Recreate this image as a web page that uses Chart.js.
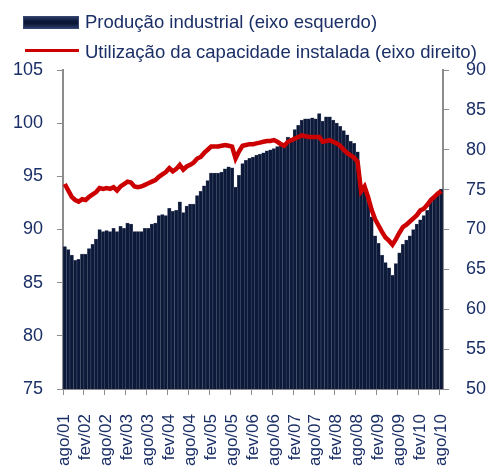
<!DOCTYPE html>
<html>
<head>
<meta charset="utf-8">
<script src="https://cdn.jsdelivr.net/npm/chart.js@4.4.0/dist/chart.umd.min.js"></script>
<style>
  body { margin: 0; background: #fff; }
  #contenedor { position: relative; width: 488px; height: 466px; }
  #leyenda {
    position: absolute; left: 23px; top: 7px;
    font-family: Arial, "Liberation Sans", sans-serif; font-size: 18.5px; color: #1a2f66;
  }
  .item { height: 30px; line-height: 30px; white-space: nowrap; }
  .caja {
    display: inline-block; width: 54px; height: 11px; margin-right: 6px; vertical-align: -1px;
    background: linear-gradient(#2a3a66, #0b1736 40%, #0b1736 60%, #2a3a66); border: 1px solid #34446e;
  }
  .linea {
    display: inline-block; width: 54px; height: 3px; margin: 0 6px 0 2px; vertical-align: 6px;
    background: #cc0000;
  }
</style>
</head>
<body>
<div id="contenedor">
  <canvas id="grafico" width="488" height="466"></canvas>
  <div id="leyenda">
    <div class="item"><span class="caja"></span>Produção industrial (eixo esquerdo)</div>
    <div class="item"><span class="linea"></span>Utilização da capacidade instalada (eixo direito)</div>
  </div>
</div>
<script>
// meses desde ago/01 hasta ago/10
const nombresMes = ["jan", "fev", "mar", "abr", "mai", "jun", "jul", "ago", "set", "out", "nov", "dez"];
const meses = [];
for (let k = 0; k < 109; k++) {
  const m = (7 + k) % 12;
  const a = 1 + Math.floor((7 + k) / 12);
  meses.push(nombresMes[m] + "/" + String(a).padStart(2, "0"));
}

// Produção industrial (eixo esquerdo)
const producao = [
  88.4, 88.1, 87.6, 87.1, 87.2, 87.7, 87.7, 88.2, 88.6, 89.1, 90.0, 89.8,
  89.9, 89.8, 90.1, 89.8, 90.3, 90.1, 90.6, 90.5, 89.8, 89.8, 89.8, 90.1,
  90.1, 90.5, 90.6, 91.3, 91.4, 91.3, 92.0, 91.7, 91.8, 92.6, 91.6, 92.2,
  92.4, 92.4, 93.2, 93.6, 94.1, 94.6, 95.3, 95.3, 95.3, 95.4, 95.7, 95.9,
  95.8, 94.0, 95.1, 96.2, 96.5, 96.7, 96.8, 97.0, 97.1, 97.2, 97.4, 97.5,
  97.6, 97.8, 97.9, 97.9, 98.7, 98.6, 99.4, 99.8, 100.3, 100.4, 100.4, 100.5,
  100.4, 100.9, 100.2, 100.6, 100.6, 100.3, 100.0, 99.7, 99.3, 98.9, 98.3, 98.1,
  97.3, 93.6, 93.8, 93.2, 91.2, 89.4, 88.7, 87.6, 86.9, 86.4, 85.7, 86.8,
  87.8, 88.6, 89.0, 89.4, 90.0, 90.5, 90.9, 91.3, 91.8, 92.6, 93.0, 93.4,
  93.8
];

// Utilização da capacidade instalada (eixo direito)
const utilizacao = [
  75.7, 74.9, 74.1, 73.7, 73.5, 73.8, 73.7, 74.1, 74.4, 74.7, 75.2, 75.1,
  75.2, 75.1, 75.3, 74.9, 75.4, 75.7, 76.0, 75.9, 75.4, 75.3, 75.4, 75.6,
  75.8, 76.0, 76.2, 76.6, 76.9, 77.2, 77.7, 77.3, 77.6, 78.1, 77.5, 77.9,
  78.1, 78.4, 78.9, 79.1, 79.6, 80.0, 80.4, 80.4, 80.4, 80.5, 80.6, 80.5,
  80.4, 78.9, 79.8, 80.5, 80.6, 80.7, 80.7, 80.8, 80.9, 81.0, 81.1, 81.1,
  81.2, 81.0, 80.7, 80.5, 81.0, 81.2, 81.4, 81.6, 81.8, 81.7, 81.6, 81.6,
  81.6, 81.6, 81.0, 81.1, 81.2, 81.0, 80.8, 80.5, 80.0, 79.6, 79.3, 79.0,
  78.5, 74.8, 75.4, 74.1, 72.5, 71.3, 70.5, 69.7, 69.0, 68.6, 68.1, 68.8,
  69.6, 70.3, 70.6, 71.0, 71.4, 71.8, 72.4, 72.6, 73.1, 73.7, 74.1, 74.5,
  74.8
];

const ticksIzq = [75, 80, 85, 90, 95, 100, 105];
const ticksDer = [50, 55, 60, 65, 70, 75, 80, 85, 90];

const azul = "#1a2f66";
const gris = "#8c8c8c";
const fuente = { family: "Arial, 'Liberation Sans', sans-serif", size: 18 };

const ctx = document.getElementById("grafico").getContext("2d");
const grafico = new Chart(ctx, {
  type: "bar",
  data: {
    labels: meses,
    datasets: [
      {
        type: "line",
        label: "Utilização da capacidade instalada (eixo direito)",
        data: utilizacao,
        yAxisID: "y1",
        borderColor: "#cc0000",
        borderWidth: 4.5,
        pointRadius: 0,
        tension: 0,
        order: 0,
      },
      {
        type: "bar",
        label: "Produção industrial (eixo esquerdo)",
        data: producao,
        yAxisID: "y",
        backgroundColor: "#0c1939",
        borderColor: "#59627a",
        borderWidth: 0.5,
        barPercentage: 1,
        categoryPercentage: 1,
        order: 1,
      },
    ],
  },
  options: {
    responsive: false,
    animation: false,
    layout: { padding: { top: 70, left: 0, right: 0, bottom: 0 } },
    plugins: { legend: { display: false }, tooltip: { enabled: false } },
    scales: {
      x: {
        grid: {
          drawOnChartArea: false,
          tickLength: 6,
          color: (c) => (c.index % 6 === 0 ? gris : "rgba(0,0,0,0)"),
        },
        border: { color: gris, width: 2 },
        ticks: {
          autoSkip: false,
          minRotation: 90,
          maxRotation: 90,
          padding: 19,
          color: azul,
          font: { family: fuente.family, size: 17 },
          callback: (v, i) => (i % 6 === 0 ? meses[i] : ""),
        },
        afterFit: (s) => { s.height = 77; },
      },
      y: {
        position: "left",
        min: 75,
        max: 105,
        afterBuildTicks: (s) => { s.ticks = ticksIzq.map((v) => ({ value: v })); },
        grid: { drawOnChartArea: false, tickLength: 6, color: gris },
        border: { color: gris, width: 2 },
        ticks: { padding: 14, color: azul, font: fuente },
        afterFit: (s) => { s.width = 63; },
      },
      y1: {
        position: "right",
        min: 50,
        max: 90,
        afterBuildTicks: (s) => { s.ticks = ticksDer.map((v) => ({ value: v })); },
        grid: { drawOnChartArea: false, tickLength: 6, color: gris },
        border: { color: gris, width: 2 },
        ticks: { padding: 17, color: azul, font: fuente },
        afterFit: (s) => { s.width = 45; },
      },
    },
  },
});
</script>
</body>
</html>
